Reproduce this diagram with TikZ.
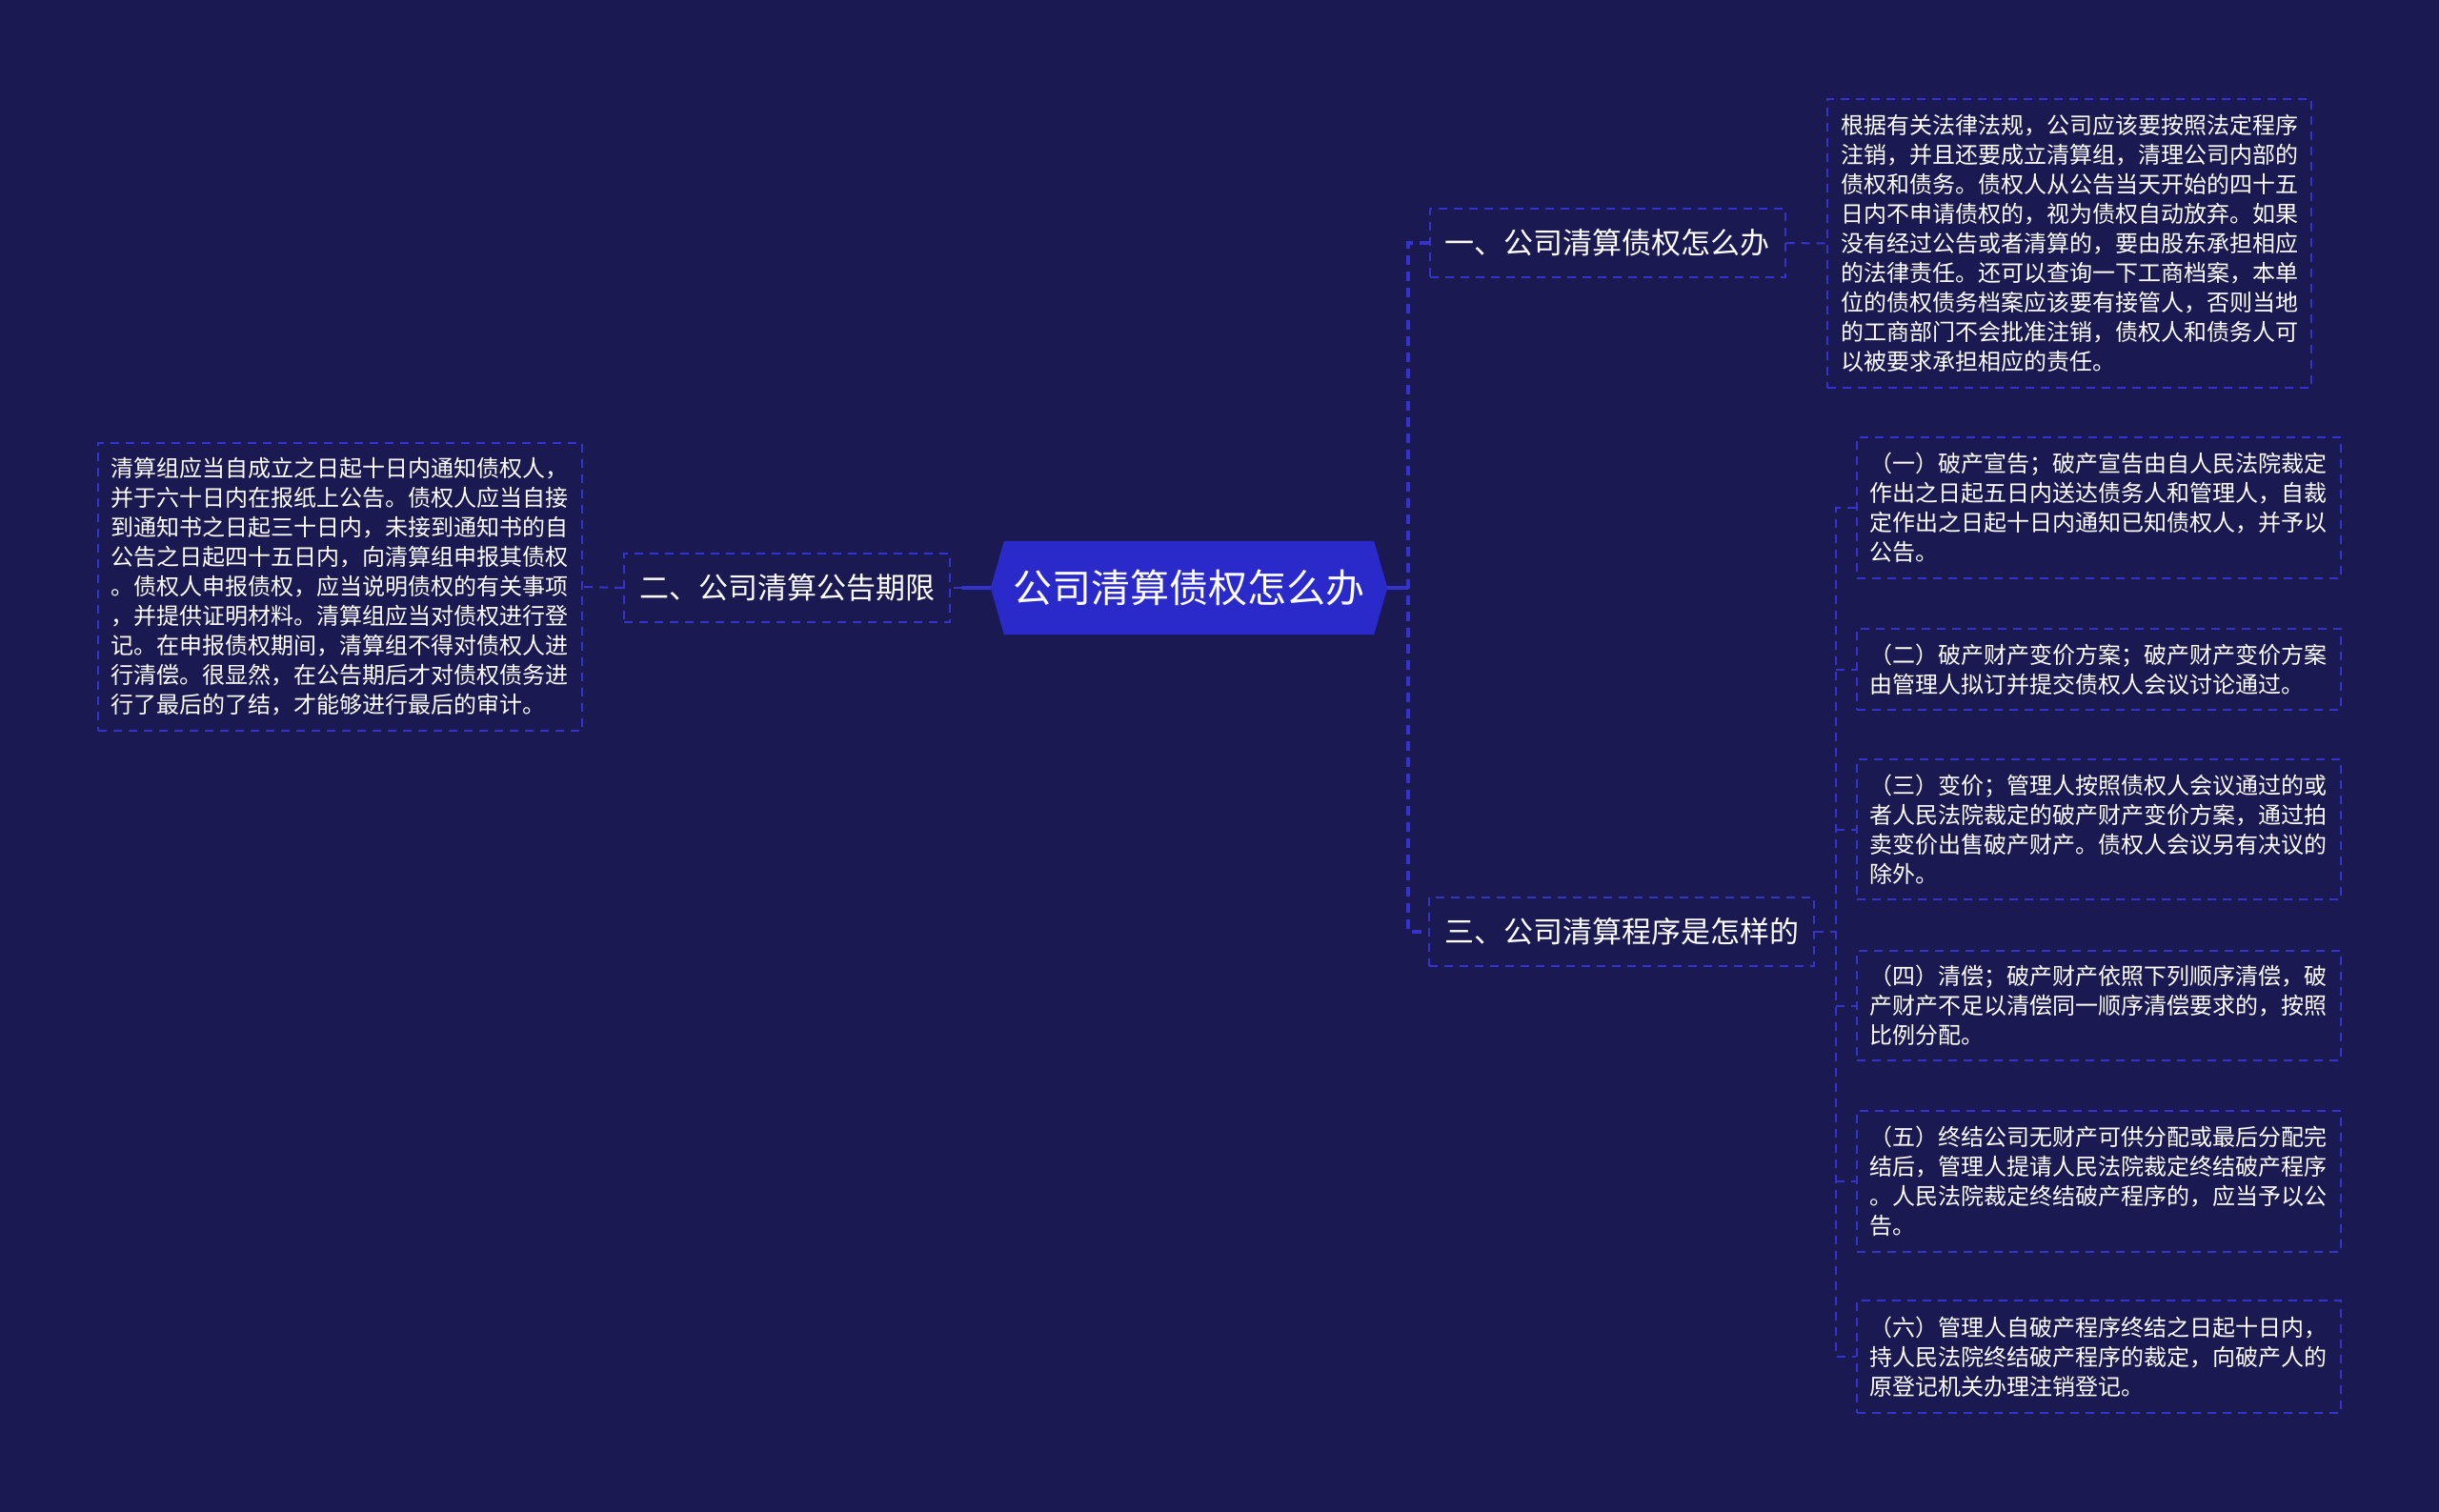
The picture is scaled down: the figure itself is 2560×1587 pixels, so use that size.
\documentclass[tikz,border=0pt]{standalone}
\usepackage{fontspec}
\setmainfont{Noto Sans CJK SC}
\definecolor{bgc}{HTML}{1A1952}
\definecolor{rootc}{HTML}{2A2ACB}
\definecolor{linec}{HTML}{3434CC}
\tikzset{
  txtbox/.style={draw=linec, line width=2pt, dash pattern=on 9pt off 7pt,
    text=white, font=\fontsize{24}{31}\selectfont, align=left,
    text width=480pt, inner xsep=14pt, inner ysep=0pt, anchor=center},
  branch/.style={draw=linec, line width=2pt, dash pattern=on 9pt off 7pt,
    text=white, font=\fontsize{31}{36}\selectfont, inner xsep=16pt,
    minimum height=72pt, anchor=center},
  mainline/.style={draw=linec, line width=4pt},
  spine/.style={draw=linec, line width=4pt, dash pattern=on 10pt off 7pt},
  thinline/.style={draw=linec, line width=2pt, dash pattern=on 9pt off 7pt},
}
\begin{document}
\begin{tikzpicture}[x=1pt,y=-1pt]
\fill[bgc] (0,0) rectangle (2560,1587);
\useasboundingbox (0,0) rectangle (2560,1587);

% root
\node (root) [minimum width=416pt, minimum height=98pt, inner sep=0pt] at (1248,617) {};
\fill[rootc] (root.west) -- ([xshift=14pt]root.north west) -- ([xshift=-14pt]root.north east)
  -- (root.east) -- ([xshift=-14pt]root.south east) -- ([xshift=14pt]root.south west) -- cycle;
\node (roottxt) [text=white, font=\fontsize{41}{48}\selectfont] at (root.center) {公司清算债权怎么办};

% branches
\node (b1) [branch] at (1687,255) {一、公司清算债权怎么办};
\node (b2) [branch] at (826,617) {二、公司清算公告期限};
\node (b3) [branch] at (1702,978) {三、公司清算程序是怎样的};

% text boxes
\node (t1) [txtbox, minimum height=303pt] at (2172,255.5) {根据有关法律法规，公司应该要按照法定程序\\注销，并且还要成立清算组，清理公司内部的\\债权和债务。债权人从公告当天开始的四十五\\日内不申请债权的，视为债权自动放弃。如果\\没有经过公告或者清算的，要由股东承担相应\\的法律责任。还可以查询一下工商档案，本单\\位的债权债务档案应该要有接管人，否则当地\\的工商部门不会批准注销，债权人和债务人可\\以被要求承担相应的责任。};

\node (lt) [txtbox, minimum height=302pt] at (356.5,616) {清算组应当自成立之日起十日内通知债权人，\\并于六十日内在报纸上公告。债权人应当自接\\到通知书之日起三十日内，未接到通知书的自\\公告之日起四十五日内，向清算组申报其债权\\。债权人申报债权，应当说明债权的有关事项\\，并提供证明材料。清算组应当对债权进行登\\记。在申报债权期间，清算组不得对债权人进\\行清偿。很显然，在公告期后才对债权债务进\\行了最后的了结，才能够进行最后的审计。};

\node (s1) [txtbox, minimum height=148pt] at (2202.5,533) {（一）破产宣告；破产宣告由自人民法院裁定\\作出之日起五日内送达债务人和管理人，自裁\\定作出之日起十日内通知已知债权人，并予以\\公告。};
\node (s2) [txtbox, minimum height=85pt] at (2202.5,702.5) {（二）破产财产变价方案；破产财产变价方案\\由管理人拟订并提交债权人会议讨论通过。};
\node (s3) [txtbox, minimum height=147pt] at (2202.5,870.5) {（三）变价；管理人按照债权人会议通过的或\\者人民法院裁定的破产财产变价方案，通过拍\\卖变价出售破产财产。债权人会议另有决议的\\除外。};
\node (s4) [txtbox, minimum height=115pt] at (2202.5,1055.5) {（四）清偿；破产财产依照下列顺序清偿，破\\产财产不足以清偿同一顺序清偿要求的，按照\\比例分配。};
\node (s5) [txtbox, minimum height=148pt] at (2202.5,1240) {（五）终结公司无财产可供分配或最后分配完\\结后，管理人提请人民法院裁定终结破产程序\\。人民法院裁定终结破产程序的，应当予以公\\告。};
\node (s6) [txtbox, minimum height=118pt] at (2202.5,1424) {（六）管理人自破产程序终结之日起十日内，\\持人民法院终结破产程序的裁定，向破产人的\\原登记机关办理注销登记。};

% connectors
\coordinate (sj) at (1478,617);
\coordinate (lj) at (1010,617);
\coordinate (rs) at (1927,978);
\draw[mainline] (root.east) -- (sj);
\draw[spine] (b1.west) -| (sj) |- (b3.west);
\draw[mainline] (root.west) -- (lj);
\draw[thinline] (lj) -- (b2.east);
\draw[thinline] (b2.west) -- (lt.east);
\draw[thinline] (b1.east) -- (t1.west);
\draw[thinline] (b3.east) -- (rs);
\draw[thinline] (s1.west) -| (rs) |- (s6.west);
\draw[thinline] (rs |- s2.west) -- (s2.west);
\draw[thinline] (rs |- s3.west) -- (s3.west);
\draw[thinline] (rs |- s4.west) -- (s4.west);
\draw[thinline] (rs |- s5.west) -- (s5.west);
\end{tikzpicture}
\end{document}
